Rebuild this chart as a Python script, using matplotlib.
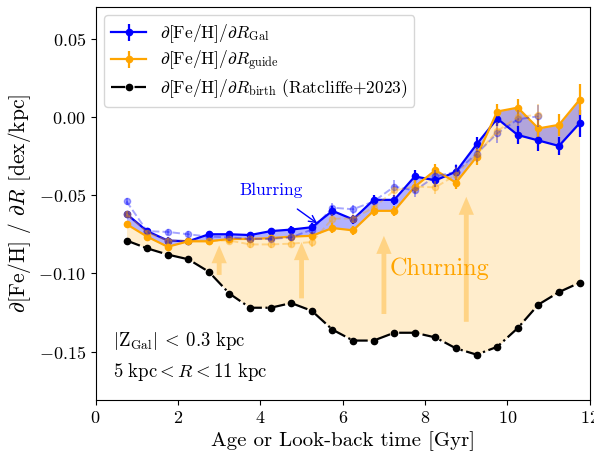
import numpy as np
import matplotlib
matplotlib.use('Agg')
import matplotlib.pyplot as plt

plt.rcParams['font.family'] = 'serif'
plt.rcParams['font.serif'] = ['cmr10']
plt.rcParams['mathtext.fontset'] = 'cm'
plt.rcParams['axes.formatter.use_mathtext'] = True

# age bins [Gyr]
age = [0.75, 1.25, 1.75, 2.25, 2.75, 3.25, 3.75, 4.25, 4.75, 5.25, 5.75, 6.25,
       6.75, 7.25, 7.75, 8.25, 8.75, 9.25, 9.75, 10.25, 10.75, 11.25, 11.75]

# radial metallicity gradients [dex/kpc]
grad_gal = [-0.062, -0.073, -0.079, -0.0795, -0.075, -0.075, -0.0755, -0.073,
            -0.072, -0.0705, -0.060, -0.0655, -0.053, -0.053, -0.038, -0.0405,
            -0.035, -0.0175, -0.001, -0.0115, -0.015, -0.0185, -0.004]
err_gal = [0.002, 0.002, 0.002, 0.002, 0.002, 0.002, 0.002, 0.002, 0.002,
           0.0025, 0.003, 0.003, 0.003, 0.003, 0.004, 0.004, 0.004, 0.005,
           0.005, 0.006, 0.0065, 0.006, 0.0085]

grad_guide = [-0.0685, -0.0765, -0.083, -0.0795, -0.0795, -0.078, -0.078,
              -0.0775, -0.0765, -0.076, -0.071, -0.0725, -0.060, -0.060,
              -0.0445, -0.034, -0.042, -0.0255, 0.0035, 0.006, -0.0073,
              -0.005, 0.011]
err_guide = [0.002, 0.002, 0.002, 0.002, 0.002, 0.002, 0.002, 0.002, 0.002,
             0.0025, 0.003, 0.003, 0.003, 0.003, 0.004, 0.004, 0.004, 0.005,
             0.005, 0.0055, 0.0065, 0.007, 0.01]

grad_birth = [-0.079, -0.084, -0.088, -0.091, -0.099, -0.113, -0.122, -0.122,
              -0.119, -0.124, -0.136, -0.143, -0.143, -0.138, -0.138, -0.141,
              -0.148, -0.152, -0.147, -0.135, -0.120, -0.112, -0.106]

# faded comparison sample (dashed)
age_alt = [0.75, 1.25, 1.75, 2.25, 2.75, 3.25, 3.75, 4.25, 4.75, 5.25, 5.75,
           6.25, 6.75, 7.25, 7.75, 8.25, 8.75, 9.25, 9.75, 10.25, 10.75]
grad_gal_alt = [-0.054, -0.073, -0.0735, -0.075, -0.0765, -0.077, -0.078,
                -0.078, -0.077, -0.072, -0.058, -0.059, -0.054, -0.0445,
                -0.047, -0.038, -0.035, -0.0235, -0.0105, -0.0015, 0.0005]
grad_guide_alt = [-0.062, -0.074, -0.079, -0.079, -0.079, -0.079, -0.0815,
                  -0.0815, -0.081, -0.080, -0.065, -0.065, -0.058, -0.047,
                  -0.0445, -0.045, -0.037, -0.024, -0.009, 0.0, 0.0015]
err_alt = [0.002, 0.002, 0.002, 0.002, 0.002, 0.002, 0.002, 0.002, 0.002,
           0.003, 0.003, 0.003, 0.003, 0.004, 0.004, 0.004, 0.005, 0.005,
           0.006, 0.006, 0.007]

fig, ax = plt.subplots(figsize=(5.94, 4.54), dpi=100)
fig.subplots_adjust(left=0.161, right=0.993, bottom=0.119, top=0.985)

ax.fill_between(age, grad_birth, grad_guide, color='orange', alpha=0.2,
                lw=0, zorder=0)
ax.fill_between(age, grad_gal, grad_guide, color='blue', alpha=0.3,
                lw=0, zorder=1)

h_gal = ax.errorbar(age, grad_gal, yerr=err_gal, color='blue', marker='o',
                    ms=4.5, lw=1.6, elinewidth=1.6, zorder=3,
                    label=r'$\partial$[Fe/H]/$\partial R_{\rm Gal}$')
h_guide = ax.errorbar(age, grad_guide, yerr=err_guide, color='orange',
                      marker='o', ms=4.5, lw=1.6, elinewidth=1.6, zorder=3,
                      label=r'$\partial$[Fe/H]/$\partial R_{\rm guide}$')
h_birth, = ax.plot(age, grad_birth, color='k', ls='-.', marker='o', ms=4.5,
                   lw=1.6, zorder=3,
                   label=r'$\partial$[Fe/H]/$\partial R_{\rm birth}$ (Ratcliffe+2023)')

ax.errorbar(age_alt, grad_gal_alt, yerr=err_alt, color='blue', marker='o',
            ms=4.5, lw=1.4, ls='--', alpha=0.35, zorder=4)
ax.errorbar(age_alt, grad_guide_alt, yerr=err_alt, color='orange', marker='o',
            ms=4.5, lw=1.4, ls='--', alpha=0.35, zorder=4)

# churning arrows
arrow_x = [3, 5, 7, 9]
arrow_from = [-0.101, -0.116, -0.126, -0.131]
arrow_to = [-0.082, -0.080, -0.076, -0.051]
for x0, y0, y1 in zip(arrow_x, arrow_from, arrow_to):
    ax.annotate('', xy=(x0, y1), xytext=(x0, y0),
                arrowprops=dict(arrowstyle='simple,head_width=1.1,head_length=1.3,tail_width=0.35',
                                mutation_scale=10, color='orange', alpha=0.35,
                                lw=0, shrinkA=0, shrinkB=0), zorder=2)

ax.text(8.35, -0.097, 'Churning', color='orange', fontsize=17.5,
        ha='center', va='center')
ax.annotate('Blurring', xy=(5.38, -0.068), xytext=(4.27, -0.047),
            color='blue', fontsize=12.5, ha='center', va='center',
            arrowprops=dict(arrowstyle='->', color='blue', lw=1,
                            shrinkA=10, shrinkB=0))

ax.text(0.035, 0.150, r'$|{\rm Z}_{\rm Gal}|\:<\:0.3\ {\rm kpc}$',
        transform=ax.transAxes, fontsize=13.5, va='center')
ax.text(0.035, 0.071, r'$5\ {\rm kpc} < R < 11\ {\rm kpc}$',
        transform=ax.transAxes, fontsize=13.5, va='center')

ax.set_xlim(0, 12)
ax.set_ylim(-0.181, 0.0705)
ax.set_xticks([0, 2, 4, 6, 8, 10, 12])
ax.set_yticks([-0.15, -0.10, -0.05, 0.00, 0.05])
ax.tick_params(labelsize=13)
ax.set_xlabel('Age or Look-back time [Gyr]', fontsize=15)
ax.set_ylabel(r'$\partial$[Fe/H] / $\partial R$ [dex/kpc]', fontsize=15.5)

ax.legend(handles=[h_gal, h_guide, h_birth], loc='upper left', fontsize=12.5,
          labelspacing=0.2)

fig.savefig('out.png', dpi=100)
